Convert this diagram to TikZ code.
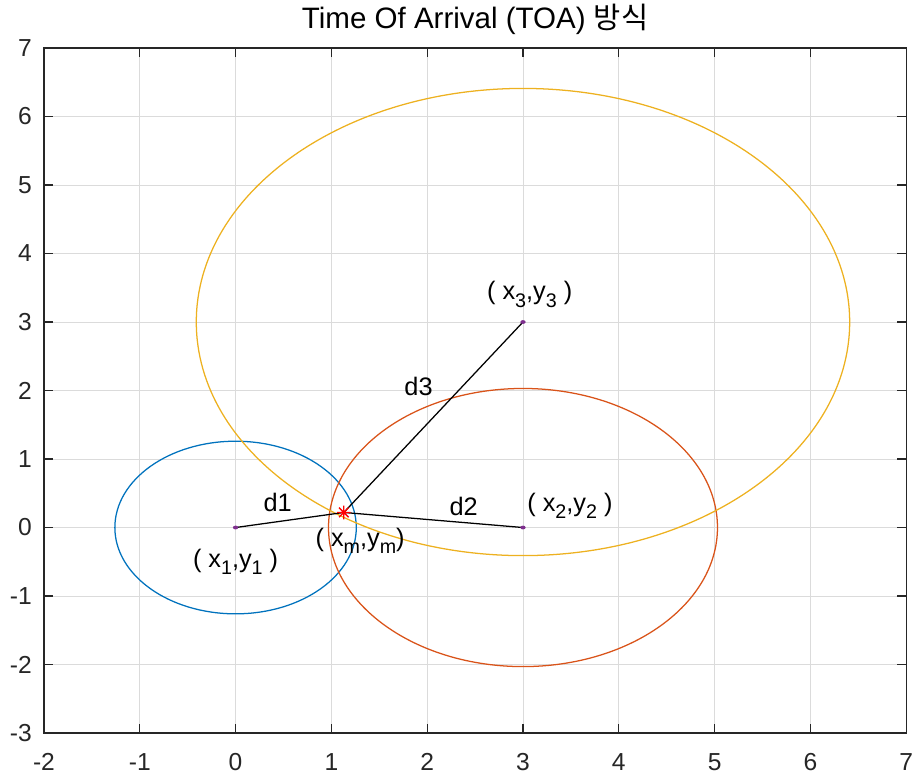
\documentclass[tikz,border=0pt]{standalone}
\usepackage{fontspec}
\setmainfont{Liberation Sans}
\newfontfamily\krfont{Noto Sans CJK KR}
\definecolor{mlblue}{rgb}{0,0.447,0.741}
\definecolor{mlred}{rgb}{0.85,0.325,0.098}
\definecolor{mlyellow}{rgb}{0.929,0.694,0.125}
\definecolor{mlpurple}{rgb}{0.494,0.184,0.556}
\definecolor{axisgray}{rgb}{0.15,0.15,0.15}
% pedice alla maniera di MATLAB: piu' grande e piu' basso
\newcommand{\pdc}[1]{\raisebox{-0.55ex}{\fontsize{14}{14}\selectfont #1}}
\begin{document}
\begin{tikzpicture}[x=2.395cm,y=1.7125cm,
    gridline/.style={gray!28,line width=0.5pt},
    axisline/.style={axisgray,line width=0.85pt},
    ticklbl/.style={inner sep=0pt,text=axisgray,font=\fontsize{17.5}{20}\selectfont},
    ptlbl/.style={inner sep=0pt,font=\fontsize{18}{20}\selectfont},
    dline/.style={black,line width=0.9pt},
    circ/.style={line width=0.9pt}]
    \useasboundingbox (-2.459,-3.657) rectangle (7.071,7.701);
    % --- griglia ---
    \foreach \x in {-1,...,6} \draw[gridline] (\x,-3) -- (\x,7);
    \foreach \y in {-2,...,6} \draw[gridline] (-2,\y) -- (7,\y);
    % --- cerchi (raggio = distanza misurata) ---
    \draw[circ,mlblue] (0,0) circle[radius=1.26];                     % ancora 1
    \draw[circ,mlred] (3,0) circle[radius=2.03];                      % ancora 2
    \draw[circ,mlyellow] (3,3) circle[radius=3.41];                   % ancora 3
    % --- ancore e posizione stimata ---
    \coordinate (A1) at (0,0);
    \coordinate (A2) at (3,0);
    \coordinate (A3) at (3,3);
    \coordinate (M) at (1.13,0.22);
    \draw[dline] (A1) -- (M);
    \draw[dline] (A2) -- (M);
    \draw[dline] (A3) -- (M);
    \foreach \p in {A1,A2,A3} \fill[mlpurple] (\p) circle[radius=0.028];
    \draw[red,line width=0.9pt] ([xshift=-0.17cm]M) -- ([xshift=0.17cm]M)
                               ([yshift=-0.17cm]M) -- ([yshift=0.17cm]M)
                               ([shift={(-0.12cm,-0.12cm)}]M) -- ([shift={(0.12cm,0.12cm)}]M)
                               ([shift={(-0.12cm,0.12cm)}]M) -- ([shift={(0.12cm,-0.12cm)}]M);
    % --- etichette ---
    \node[ptlbl,anchor=base] (lblA1) at (0.0,-0.585) {( x\pdc{1},y\pdc{1} )};
    \node[ptlbl,anchor=base] (lblA2) at (3.49,0.235) {( x\pdc{2},y\pdc{2} )};
    \node[ptlbl,anchor=base] (lblA3) at (3.07,3.325) {( x\pdc{3},y\pdc{3} )};
    \node[ptlbl,anchor=base] (lblM) at (1.30,-0.275) {( x\pdc{m},y\pdc{m})};
    \node[ptlbl,anchor=base] (d1) at (0.44,0.23) {d1};
    \node[ptlbl,anchor=base] (d2) at (2.38,0.18) {d2};
    \node[ptlbl,anchor=base] (d3) at (1.91,1.93) {d3};
    % --- assi, tacche e numeri ---
    \draw[axisline] (-2,-3) rectangle (7,7);
    \foreach \x in {-1,...,6} \draw[axisline] (\x,-3) -- ++(0,0.13) (\x,7) -- ++(0,-0.13);
    \foreach \y in {-2,...,6} \draw[axisline] (-2,\y) -- ++(0.094,0) (7,\y) -- ++(-0.094,0);
    \foreach \x in {-2,...,7} \node[ticklbl,anchor=base] (xt\x) at (\x,-3.54) {\x};
    \foreach \y in {-3,...,7} \node[ticklbl,anchor=east] (yt\y) at (-2.125,\y) {\y};
    \node[anchor=base,inner sep=0pt,font=\fontsize{21}{24}\selectfont] (title) at (2.5,7.29)
        {Time Of Arrival (TOA) {\krfont 방식}};
\end{tikzpicture}
\end{document}
